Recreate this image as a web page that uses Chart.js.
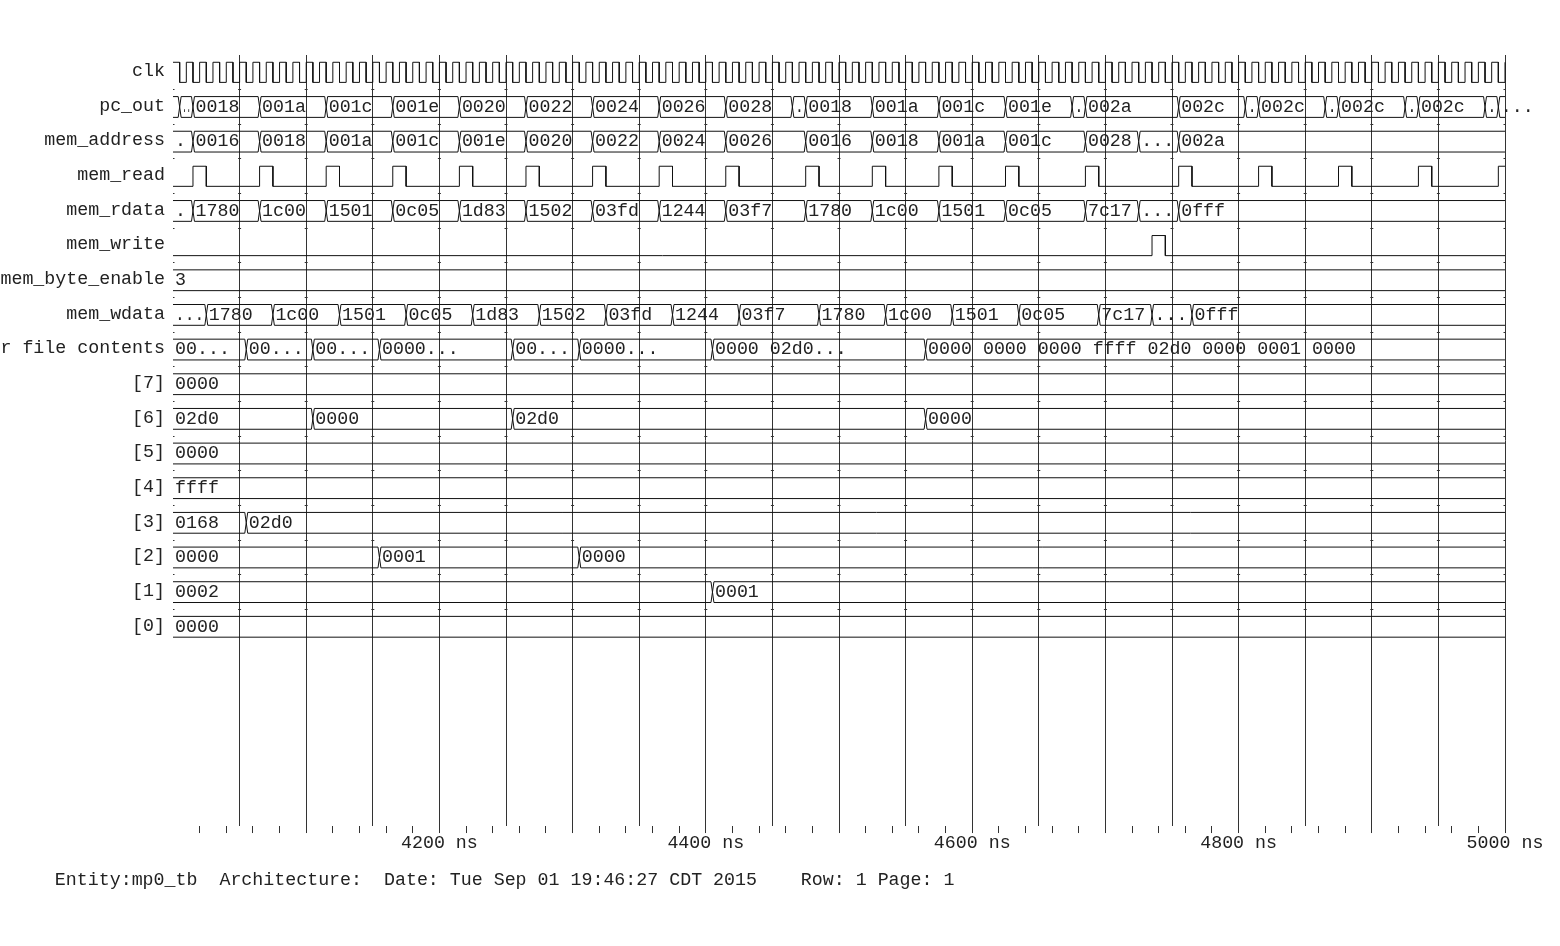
<!DOCTYPE html>
<html><head><meta charset="utf-8">
<script src="https://cdn.jsdelivr.net/npm/chart.js@4.4.1/dist/chart.umd.min.js"></script>
<style>html,body{margin:0;padding:0;background:#fff;}canvas{display:block;}</style>
</head><body>
<canvas id="c" width="1560" height="946"></canvas>
<script>
// ---------------- data ----------------
const signalNames = ['clk','pc_out','mem_address','mem_read','mem_rdata','mem_write','mem_byte_enable','mem_wdata','register file contents','[7]','[6]','[5]','[4]','[3]','[2]','[1]','[0]'];
const timeStart = 4000;
const timeEnd = 5000;
const timeTickLabels = [4200, 4400, 4600, 4800, 5000];
const footerText = '     Entity:mp0_tb  Architecture:  Date: Tue Sep 01 19:46:27 CDT 2015    Row: 1 Page: 1';

// single-bit signals (edge times in ns)
const clkRise = [4000,4010,4020,4030,4040,4050,4060,4070,4080,4090,
  4100,4110,4120,4130,4140,4150,4160,4170,4180,4190,
  4200,4210,4220,4230,4240,4250,4260,4270,4280,4290,
  4300,4310,4320,4330,4340,4350,4360,4370,4380,4390,
  4400,4410,4420,4430,4440,4450,4460,4470,4480,4490,
  4500,4510,4520,4530,4540,4550,4560,4570,4580,4590,
  4600,4610,4620,4630,4640,4650,4660,4670,4680,4690,
  4700,4710,4720,4730,4740,4750,4760,4770,4780,4790,
  4800,4810,4820,4830,4840,4850,4860,4870,4880,4890,
  4900,4910,4920,4930,4940,4950,4960,4970,4980,4990,5000];
const clkFall = [4005,4015,4025,4035,4045,4055,4065,4075,4085,4095,
  4105,4115,4125,4135,4145,4155,4165,4175,4185,4195,
  4205,4215,4225,4235,4245,4255,4265,4275,4285,4295,
  4305,4315,4325,4335,4345,4355,4365,4375,4385,4395,
  4405,4415,4425,4435,4445,4455,4465,4475,4485,4495,
  4505,4515,4525,4535,4545,4555,4565,4575,4585,4595,
  4605,4615,4625,4635,4645,4655,4665,4675,4685,4695,
  4705,4715,4725,4735,4745,4755,4765,4775,4785,4795,
  4805,4815,4825,4835,4845,4855,4865,4875,4885,4895,
  4905,4915,4925,4935,4945,4955,4965,4975,4985,4995];
const memReadRise = [4015,4065,4115,4165,4215,4265,4315,4365,4415,4475,4525,4575,4625,4685,4755,4815,4875,4935,4995];
const memReadFall = [4025,4075,4125,4175,4225,4275,4325,4375,4425,4485,4535,4585,4635,4695,4765,4825,4885,4945];
const memWriteRise = [4735];
const memWriteFall = [4745];

// bus signals: change times and displayed values
const pcOutTimes = [4000,4005,4015,4065,4115,4165,4215,4265,4315,4365,4415,4465,4475,4525,4575,4625,4675,4685,4755,4805,4815,4865,4875,4925,4935,4985,4995];
const pcOutValues = ['','..','0018','001a','001c','001e','0020','0022','0024','0026','0028','.','0018','001a','001c','001e','.','002a','002c','.','002c','.','002c','.','002c','.','...'];
const memAddressTimes = [4000,4015,4065,4115,4165,4215,4265,4315,4365,4415,4475,4525,4575,4625,4685,4725,4755];
const memAddressValues = ['.','0016','0018','001a','001c','001e','0020','0022','0024','0026','0016','0018','001a','001c','0028','...','002a'];
const memRdataTimes = [4000,4015,4065,4115,4165,4215,4265,4315,4365,4415,4475,4525,4575,4625,4685,4725,4755];
const memRdataValues = ['.','1780','1c00','1501','0c05','1d83','1502','03fd','1244','03f7','1780','1c00','1501','0c05','7c17','...','0fff'];
const memByteEnableTimes = [4000];
const memByteEnableValues = ['3'];
const memWdataTimes = [4000,4025,4075,4125,4175,4225,4275,4325,4375,4425,4485,4535,4585,4635,4695,4735,4765];
const memWdataValues = ['...','1780','1c00','1501','0c05','1d83','1502','03fd','1244','03f7','1780','1c00','1501','0c05','7c17','...','0fff'];
const regFileTimes = [4000,4055,4105,4155,4255,4305,4405,4565];
const regFileValues = ['00...','00...','00...','0000...','00...','0000...','0000 02d0...','0000 0000 0000 ffff 02d0 0000 0001 0000'];
const reg7Times = [4000];           const reg7Values = ['0000'];
const reg6Times = [4000,4105,4255,4565]; const reg6Values = ['02d0','0000','02d0','0000'];
const reg5Times = [4000];           const reg5Values = ['0000'];
const reg4Times = [4000];           const reg4Values = ['ffff'];
const reg3Times = [4000,4055];      const reg3Values = ['0168','02d0'];
const reg2Times = [4000,4155,4305]; const reg2Values = ['0000','0001','0000'];
const reg1Times = [4000,4405];      const reg1Values = ['0002','0001'];
const reg0Times = [4000];           const reg0Values = ['0000'];

// ---------------- build ----------------
const FONT_FAMILY = '"Liberation Mono", "DejaVu Sans Mono", monospace';
const FONT_SIZE = 18.3;
const TEXT_COLOR = '#222';
const LINE_COLOR = '#111';
const GRID_COLOR = '#333';

const bits = [
  {row: 0, startHigh: true,  rises: clkRise,      falls: clkFall},
  {row: 3, startHigh: false, rises: memReadRise,  falls: memReadFall},
  {row: 5, startHigh: false, rises: memWriteRise, falls: memWriteFall}
];
const buses = [
  {row: 1, times: pcOutTimes, values: pcOutValues},
  {row: 2, times: memAddressTimes, values: memAddressValues},
  {row: 4, times: memRdataTimes, values: memRdataValues},
  {row: 6, times: memByteEnableTimes, values: memByteEnableValues},
  {row: 7, times: memWdataTimes, values: memWdataValues},
  {row: 8, times: regFileTimes, values: regFileValues},
  {row: 9, times: reg7Times, values: reg7Values},
  {row: 10, times: reg6Times, values: reg6Values},
  {row: 11, times: reg5Times, values: reg5Values},
  {row: 12, times: reg4Times, values: reg4Values},
  {row: 13, times: reg3Times, values: reg3Values},
  {row: 14, times: reg2Times, values: reg2Values},
  {row: 15, times: reg1Times, values: reg1Values},
  {row: 16, times: reg0Times, values: reg0Values}
];

function bitPoints(b) {
  const hi = b.row - 0.29, lo = b.row + 0.29;
  const edges = b.rises.map(t => ({t, v: 1})).concat(b.falls.map(t => ({t, v: 0}))).sort((a, c) => a.t - c.t);
  let cur = b.startHigh ? 1 : 0;
  const pts = [{x: timeStart, y: cur ? hi : lo}];
  for (const e of edges) {
    if (e.t === timeStart) { cur = e.v; pts[0].y = cur ? hi : lo; continue; }
    pts.push({x: e.t, y: cur ? hi : lo});
    cur = e.v;
    pts.push({x: e.t, y: cur ? hi : lo});
  }
  if (pts[pts.length - 1].x < timeEnd) pts.push({x: timeEnd, y: cur ? hi : lo});
  return pts;
}
function busPoints(b, side) {
  const edge = b.row + side * 0.3, D = 1.1;
  const pts = [{x: timeStart, y: edge}];
  for (let i = 1; i < b.times.length; i++) {
    const t = b.times[i];
    pts.push({x: t - D, y: edge}, {x: t, y: b.row}, {x: t + D, y: edge});
  }
  pts.push({x: timeEnd, y: edge});
  return pts;
}
const lineStyle = {borderColor: LINE_COLOR, borderWidth: 1, pointRadius: 0, tension: 0, fill: false, clip: false};
const datasets = [];
bits.forEach(b => datasets.push(Object.assign({data: bitPoints(b)}, lineStyle)));
buses.forEach(b => {
  datasets.push(Object.assign({data: busPoints(b, -1)}, lineStyle));
  datasets.push(Object.assign({data: busPoints(b, 1)}, lineStyle));
});

const busTextPlugin = {
  id: 'busText',
  afterDatasetsDraw(chart) {
    const {ctx, scales: {x, y}} = chart;
    ctx.save();
    ctx.font = FONT_SIZE + 'px ' + FONT_FAMILY;
    ctx.fillStyle = TEXT_COLOR;
    ctx.textBaseline = 'middle';
    ctx.textAlign = 'left';
    for (const b of buses) {
      const yy = y.getPixelForValue(b.row);
      for (let i = 0; i < b.times.length; i++) {
        const txt = b.values[i];
        if (!txt) continue;
        const x0 = x.getPixelForValue(b.times[i]);
        const px = x0 + (i === 0 ? 2 : 2.5);
        const hasNext = i + 1 < b.times.length;
        if (hasNext && /^\.+$/.test(txt)) {
          const x1 = x.getPixelForValue(b.times[i + 1]);
          ctx.fillText(txt, px, yy, Math.max(4, x1 - px - 2));
        } else {
          ctx.fillText(txt, px, yy);
        }
      }
    }
    ctx.restore();
  }
};

const tickVal = ctx => (ctx && ctx.tick) ? ctx.tick.value : NaN;

new Chart(document.getElementById('c'), {
  type: 'line',
  data: {datasets},
  options: {
    responsive: false,
    animation: false,
    events: [],
    layout: {padding: {left: 0, right: 55, top: 55, bottom: 55}},
    plugins: {
      legend: {display: false},
      tooltip: {enabled: false},
      title: {
        display: true, position: 'bottom', align: 'start', text: footerText,
        color: TEXT_COLOR, font: {family: FONT_FAMILY, size: FONT_SIZE, weight: 'normal', lineHeight: 1.2},
        padding: {top: 3, bottom: 0}
      }
    },
    scales: {
      x: {
        type: 'linear', min: timeStart, max: timeEnd, position: 'bottom',
        afterFit(s) { s.height = 40; },
        ticks: {
          stepSize: 10, autoSkip: false, maxRotation: 0, minRotation: 0, padding: -1,
          color: TEXT_COLOR, font: {family: FONT_FAMILY, size: FONT_SIZE},
          callback: v => timeTickLabels.includes(v) ? v + ' ns' : ''
        },
        grid: {
          tickLength: 7, lineWidth: 1,
          color: ctx => { const v = tickVal(ctx); return (v % 50 === 0 && v > timeStart) ? GRID_COLOR : 'rgba(0,0,0,0)'; },
          tickColor: ctx => { const v = tickVal(ctx); return (v % 20 === 0 && v > timeStart) ? GRID_COLOR : 'rgba(0,0,0,0)'; }
        },
        border: {display: false}
      },
      y: {
        type: 'linear', reverse: true, min: -0.5, max: 21.75,
        afterFit(s) { s.width = 173; },
        ticks: {
          stepSize: 0.5, autoSkip: false, padding: 8, includeBounds: false, labelOffset: -1,
          color: TEXT_COLOR, font: {family: FONT_FAMILY, size: FONT_SIZE},
          callback: v => { const r = Math.round(v); return (Math.abs(v - r) < 1e-6 && r >= 0 && r < signalNames.length) ? signalNames[r] : ''; }
        },
        grid: {
          drawTicks: false, lineWidth: 1,
          color: ctx => { const v = tickVal(ctx); return (Math.abs(v - Math.floor(v) - 0.5) < 1e-6 && v > 0 && v < 16) ? GRID_COLOR : 'rgba(0,0,0,0)'; }
        },
        border: {display: false, dash: [3, 63.6], dashOffset: 1.5}
      }
    }
  },
  plugins: [busTextPlugin]
});
</script>
</body></html>
